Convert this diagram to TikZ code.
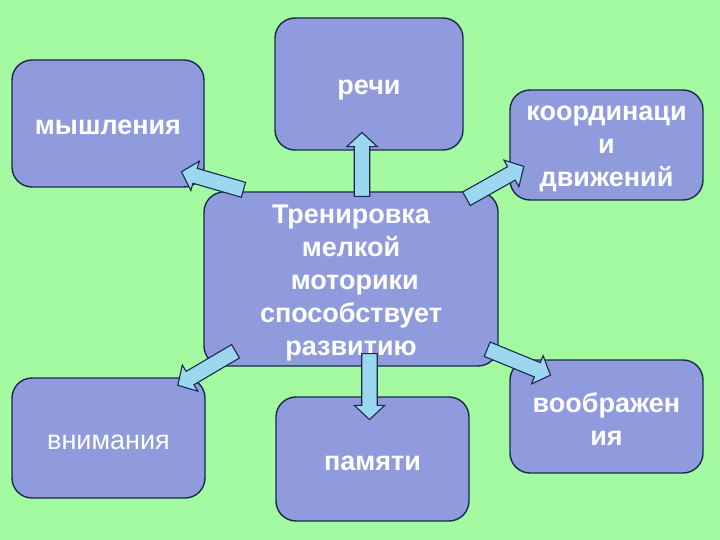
\documentclass[tikz,border=0pt]{standalone}
\usepackage{fontspec}
\setmainfont{Liberation Sans}
\usetikzlibrary{shapes.arrows}
\definecolor{bggreen}{RGB}{164,250,160}
\definecolor{boxfill}{RGB}{143,155,221}
\definecolor{arrfill}{RGB}{155,215,238}
\definecolor{edge}{RGB}{27,42,74}
\tikzset{
  box/.style={draw=edge, fill=boxfill, line width=1.4pt, rounded corners=20pt, inner sep=0pt},
  boxtext/.style={align=center, text=white, inner sep=0pt, yshift=-4pt,
    font=\fontsize{27}{33}\selectfont\bfseries},
  plaintext/.style={boxtext, font=\fontsize{27}{33}\selectfont},
  fatarr/.style={single arrow, draw=edge, fill=arrfill, line width=1.1pt,
    minimum width=30pt, single arrow head extend=7.5pt,
    single arrow tip angle=94, inner xsep=0pt, inner ysep=7.2pt,
    text height=0pt, text depth=0pt, anchor=tail}
}
\begin{document}
\begin{tikzpicture}[x=1pt,y=-1pt]
\fill[bggreen] (0,0) rectangle (720,540);
\useasboundingbox (0,0) rectangle (720,540);
% boxes
\node[box, minimum width=192pt, minimum height=127pt,
  label={[boxtext]center:мышления}] (think) at (108,123.5) {};
\node[box, minimum width=188pt, minimum height=132pt,
  label={[boxtext, yshift=-2pt]center:речи}] (speech) at (369,84) {};
\node[box, minimum width=193pt, minimum height=110pt,
  label={[boxtext]center:координаци\\и\\движений}] (coord) at (606.5,145) {};
\node[box, minimum width=294pt, minimum height=174pt,
  label={[boxtext]center:Тренировка\\мелкой\\\ моторики\\способствует\\развитию}] (center) at (351,279) {};
\node[box, minimum width=193pt, minimum height=120pt,
  label={[plaintext]center:внимания}] (attn) at (108.5,438) {};
\node[box, minimum width=193pt, minimum height=124pt,
  label={[boxtext]center:памяти}] (mem) at (372.5,459) {};
\node[box, minimum width=193pt, minimum height=113pt,
  label={[boxtext, yshift=1pt]center:воображен\\ия}] (imag) at (606.5,416.5) {};
% arrow tails
\coordinate (t1) at (244,190);
\coordinate (t2) at (362,197);
\coordinate (t3) at (466,199);
\coordinate (t4) at (236,351);
\coordinate (t5) at (369.5,353);
\coordinate (t6) at (486.7,349);
% arrows
\node[fatarr, rotate=163.8, minimum height=64.6pt] (a1) at (t1) {};
\node[fatarr, rotate=90, minimum height=64pt] (a2) at (t2) {};
\node[fatarr, rotate=29.4, minimum height=65.8pt] (a3) at (t3) {};
\node[fatarr, rotate=210.5, minimum height=67pt] (a4) at (t4) {};
\node[fatarr, rotate=-90, minimum height=66pt] (a5) at (t5) {};
\node[fatarr, rotate=-22.3, minimum height=68.4pt] (a6) at (t6) {};
\end{tikzpicture}
\end{document}
